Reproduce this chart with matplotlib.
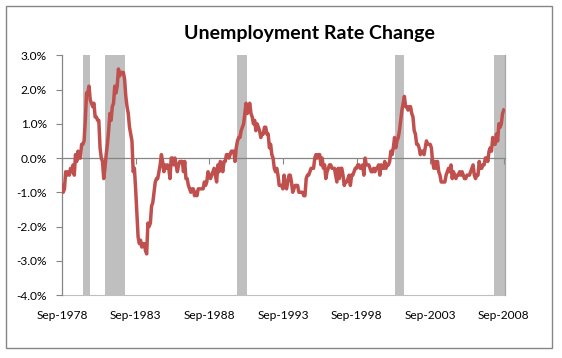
import matplotlib.pyplot as plt
from matplotlib.ticker import PercentFormatter

plt.rcParams['font.family'] = ['Lato', 'DejaVu Sans']
plt.rcParams['axes.unicode_minus'] = False

# year-over-year change of the unemployment rate, monthly, Sep-1978 .. Sep-2008
chg_1978_1985 = [
    -0.8, -1.0, -0.9, -0.4,
    -0.5, -0.4, -0.5, -0.3, -0.4, -0.2, -0.5, 0.1, -0.1, 0.2, 0.0, 0.0,
    0.4, 0.4, 0.5, 1.1, 1.9, 1.9, 2.1, 1.7, 1.6, 1.5, 1.6, 1.2,
    1.2, 1.1, 1.1, 0.3, 0.0, -0.1, -0.6, -0.3, 0.1, 0.4, 0.8, 1.3,
    1.1, 1.5, 1.6, 2.1, 1.9, 2.1, 2.6, 2.4, 2.5, 2.5, 2.5, 2.3,
    1.8, 1.5, 1.3, 0.9, 0.7, 0.5, -0.4, -0.3, -0.9, -1.6, -2.3, -2.5,
    -2.4, -2.6, -2.5, -2.5, -2.7, -2.8, -1.9, -2.0, -1.9, -1.4, -1.3, -1.0,
    -0.7, -0.6, -0.6, -0.4, -0.2, 0.1, -0.1, -0.4, -0.2, -0.3, -0.2, -0.3,
]
chg_1986_1993 = [
    -0.6, 0.0, 0.0, -0.2, 0.0, -0.2, -0.4, -0.2, -0.1, -0.1, -0.1, -0.4,
    -0.1, -0.6, -0.6, -0.8, -0.9, -1.0, -0.9, -0.9, -1.1, -1.0, -1.1, -0.9,
    -0.9, -0.9, -0.9, -0.9, -0.7, -0.8, -0.7, -0.4, -0.5, -0.6, -0.5, -0.4,
    -0.3, -0.5, -0.7, -0.2, -0.4, -0.1, -0.2, -0.4, -0.1, -0.1, 0.1, 0.1,
    0.0, 0.1, 0.2, 0.2, 0.2, -0.1, 0.3, 0.5, 0.6, 0.6, 0.8, 0.9,
    1.0, 1.3, 1.6, 1.3, 1.5, 1.6, 1.3, 1.2, 1.0, 1.1, 0.8, 1.0,
    0.9, 0.8, 0.6, 0.7, 0.7, 0.9, 0.9, 0.7, 0.7, 0.3, 0.4, 0.1,
    0.0, -0.3, -0.4, -0.3, -0.5, -0.8, -0.8, -0.8, -0.9, -0.5, -0.8, -0.9,
]
chg_1994_2001 = [
    -0.7, -0.5, -0.5, -0.7, -1.0, -0.9, -0.8, -0.8, -0.8, -1.0, -1.0, -1.0,
    -1.0, -1.1, -1.1, -0.6, -0.5, -0.5, -0.4, -0.3, -0.3, -0.3, 0.0, 0.1,
    0.0, 0.1, 0.1, -0.2, 0.0, -0.3, -0.2, -0.6, -0.4, -0.3, -0.2, -0.2,
    -0.3, -0.3, -0.3, -0.5, -0.7, -0.3, -0.6, -0.3, -0.3, -0.5, -0.8, -0.7,
    -0.7, -0.6, -0.5, -0.8, -0.5, -0.5, -0.4, -0.3, -0.3, -0.2, -0.2, -0.3,
    -0.3, -0.2, -0.5, 0.0, -0.2, -0.2, -0.2, -0.3, -0.4, -0.4, -0.3, -0.4,
    -0.3, -0.3, -0.2, -0.5, -0.2, -0.3, -0.3, -0.1, -0.3, -0.2, -0.2, -0.1,
    0.2, 0.1, 0.3, 0.6, 0.3, 0.5, 0.6, 0.8, 1.1, 1.4, 1.6, 1.8,
]
chg_2002_2008 = [
    1.5, 1.5, 1.4, 1.5, 1.5, 1.3, 1.2, 0.8, 0.7, 0.4, 0.4, 0.3,
    0.1, 0.2, 0.2, 0.1, 0.3, 0.5, 0.4, 0.4, 0.4, 0.3, -0.1, -0.3,
    -0.1, -0.3, -0.1, -0.4, -0.5, -0.7, -0.7, -0.7, -0.7, -0.5, -0.4, -0.3,
    -0.4, -0.2, -0.6, -0.4, -0.5, -0.6, -0.5, -0.5, -0.4, -0.5, -0.4, -0.5,
    -0.6, -0.6, -0.5, -0.5, -0.5, -0.4, -0.3, -0.2, -0.5, -0.6, -0.5, -0.5,
    -0.1, -0.3, -0.3, -0.2, -0.2, 0.0, 0.0, -0.1, 0.2, 0.3, 0.2, 0.6,
    0.4, 0.4, 0.7, 0.5, 1.0, 0.9, 1.0, 1.3, 1.4,
]
change = chg_1978_1985 + chg_1986_1993 + chg_1994_2001 + chg_2002_2008

tick_labels = ['Sep-1978', 'Sep-1983', 'Sep-1988', 'Sep-1993',
               'Sep-1998', 'Sep-2003', 'Sep-2008']

# recession months (first and last month of each shaded period)
recession_start = ['1980-02', '1981-08', '1990-08', '2001-04', '2008-01']
recession_end = ['1980-07', '1982-11', '1991-03', '2001-11', '2008-09']


def month_index(s):
    y, m = map(int, s.split('-'))
    return (y - 1978) * 12 + (m - 9)


fig = plt.figure(figsize=(5.62, 3.58), dpi=100)
ax = fig.add_axes([62 / 562, 63 / 358, 443 / 562, 239.7 / 358])

for s, e in zip(recession_start, recession_end):
    ax.axvspan(month_index(s), month_index(e) + 1, color='#BFBFBF', lw=0, zorder=1)

ax.plot(range(len(change)), change, color='#C0504D', lw=2.5, zorder=3,
        solid_joinstyle='round')

ax.set_xlim(0, 361)
ax.set_ylim(-4, 3)
ax.set_yticks(range(-4, 4))
ax.yaxis.set_major_formatter(PercentFormatter(decimals=1))

# category axis crosses at zero, labels stay at the bottom
ax.spines['bottom'].set_position(('data', 0))
ax.spines['bottom'].set_color('#868686')
ax.spines['left'].set_color('#868686')
ax.spines['right'].set_color('#A6A6A6')
ax.spines['top'].set_visible(False)
for sp in ['bottom', 'left', 'right']:
    ax.spines[sp].set_linewidth(0.9)
ax.set_xticks(range(0, 361, 60))
ax.tick_params(axis='x', direction='out', length=4, color='#868686',
               labelbottom=False)
ax.tick_params(axis='y', direction='out', length=4, color='#868686',
               labelsize=8.6, pad=7)

sec = ax.secondary_xaxis('bottom')
sec.set_xticks(range(0, 361, 60), labels=tick_labels)
sec.tick_params(length=0, pad=11, labelsize=8.6)
sec.spines['bottom'].set_color('#BFBFBF')

fig.text(309 / 562, 1 - 33 / 358, 'Unemployment Rate Change', ha='center',
         va='center', fontsize=14, fontweight='bold')

fig.add_artist(plt.Rectangle((6 / 562, 10 / 358), 546 / 562, 342 / 358,
                             transform=fig.transFigure, fill=False,
                             edgecolor='#868686', lw=1))

fig.savefig('out.png', dpi=100)
